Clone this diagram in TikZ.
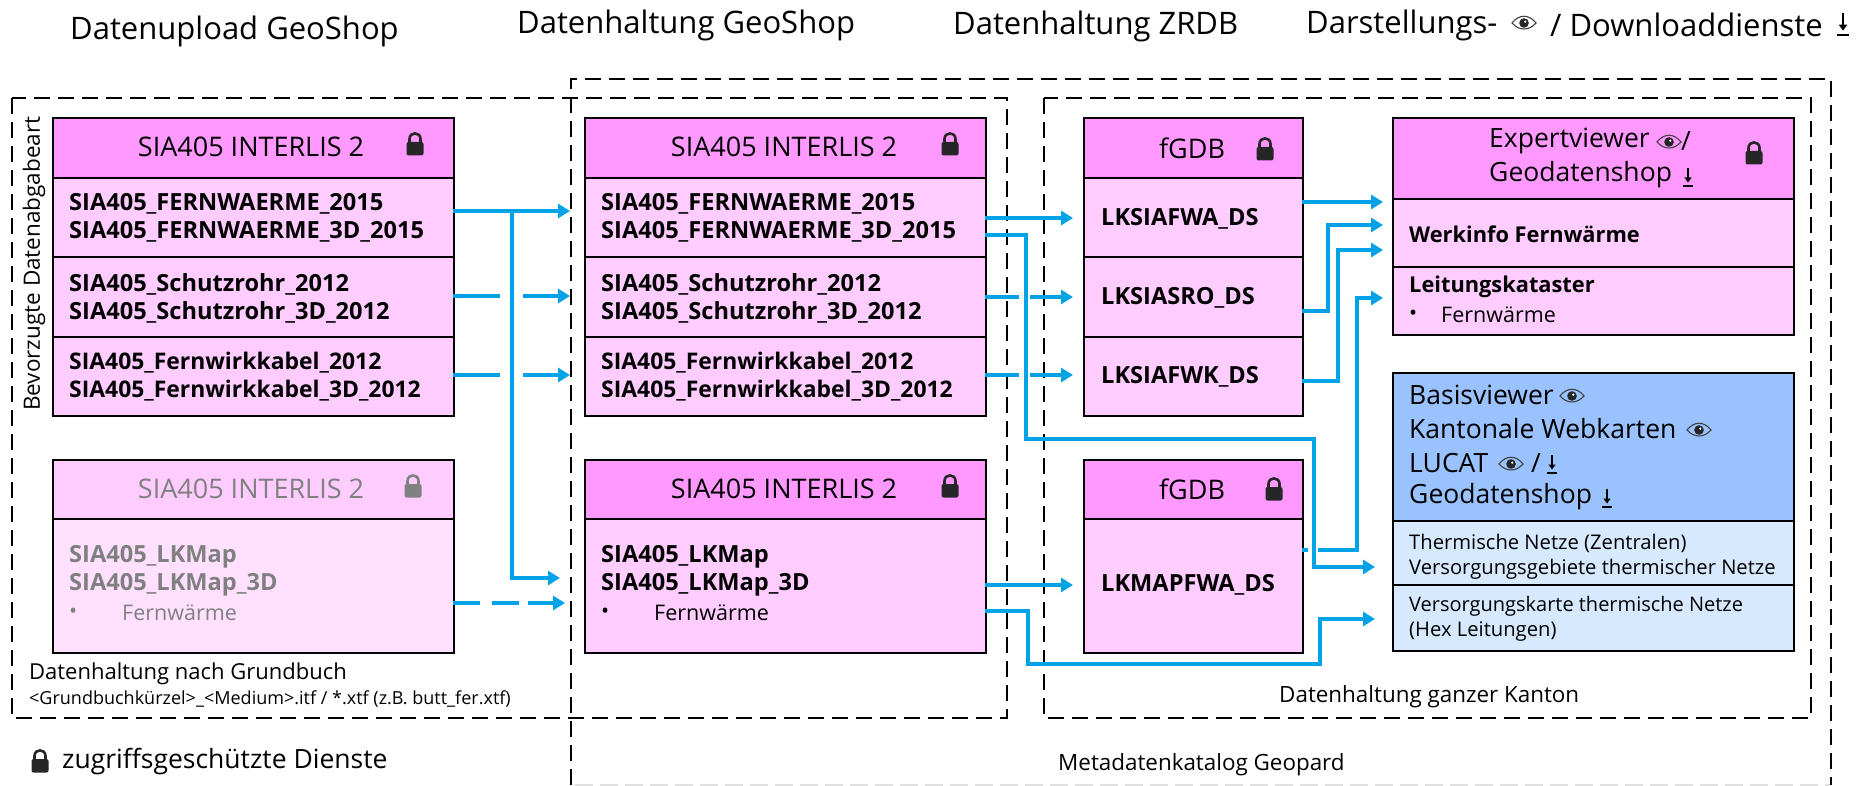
\documentclass[tikz,border=0pt]{standalone}
\usepackage{fontspec}
\setmainfont{Open Sans}
\usetikzlibrary{arrows.meta}
\definecolor{hdr}{HTML}{FF99FF}
\definecolor{rowc}{HTML}{FFCCFF}
\definecolor{rowl}{HTML}{FFE0FF}
\definecolor{blueh}{HTML}{99C2FF}
\definecolor{bluer}{HTML}{D6E9FF}
\definecolor{arr}{HTML}{00A3E8}
\definecolor{grayt}{HTML}{808080}
\definecolor{lockc}{HTML}{262626}
\newcommand{\fs}[1]{\fontsize{#1}{#1}\selectfont}
\tikzset{
  x=1pt,y=-1pt,
  cell/.style={draw=black,line width=2.2pt,inner sep=0pt,anchor=north west},
  frame/.style={draw=black,line width=2pt,dash pattern=on 16pt off 8pt},
  faint/.style={draw=black!12,line width=1.6pt,dash pattern=on 18pt off 7pt},
  link/.style={draw=arr,line width=3.2pt,line join=miter,-{Triangle[length=12pt,width=14pt]}},
  plain/.style={draw=arr,line width=3.2pt},
  txt/.style={anchor=west,inner sep=0pt,text=black},
  title/.style={txt,font=\fs{31}},
  head/.style={inner sep=0pt,font=\fs{27}},
  bold/.style={txt,font=\fs{23.6}\bfseries},
  boldl/.style={txt,font=\fs{22.9}\bfseries},
  boldw/.style={txt,font=\fs{21.8}\bfseries},
  bodyt/.style={txt,font=\fs{26.5}},
  plainr/.style={txt,font=\fs{21.5}},
  lock/.pic={
    \fill[pic actions,rounded corners=2pt] (-8.5,-2) rectangle (8.5,11.5);
    \draw[pic actions,fill=none,line width=2.6pt] (-5.5,-1) -- (-5.5,-5) .. controls (-5.5,-12.5) and (5.5,-12.5) .. (5.5,-5) -- (5.5,-1);
  },
  eye/.pic={
    \draw[black!75,line width=1.1pt] (-12,0) .. controls (-5,-9) and (5,-9) .. (12,0) .. controls (5,8) and (-5,8) .. (-12,0) -- cycle;
    \fill[black!85] (0,0) circle (4.8);
    \fill[white] (1.2,-1.4) circle (1.2);
  },
  dl/.pic={
    \draw[black,line width=1.5pt] (0,-9) -- (0,4);
    \fill[black] (-3.6,0.5) -- (3.6,0.5) -- (0,5.5) -- cycle;
    \draw[black,line width=1.7pt] (-5,9) -- (5,9);
  },
}
\begin{document}
\begin{tikzpicture}
\useasboundingbox (0,0) rectangle (1863,786);
\fill[white] (0,0) rectangle (1863,786);

% frames
\draw[faint] (575,785) -- (1830,785);
\draw[frame] (570.5,785) -- (570.5,79) -- (1830.5,79) -- (1830.5,785);
\draw[frame] (12,98) rectangle (1007,718);
\draw[frame] (1044,98) rectangle (1811,718);

% titles
\node[title] (t1) at (70,31) {Datenupload GeoShop};
\node[title] (t2) at (517,25) {Datenhaltung GeoShop};
\node[title] (t3) at (953,26) {Datenhaltung ZRDB};
\node[title] (t4a) at (1306,25) {Darstellungs-};
\node[title] (t4b) at (1550,25) {/ Downloaddienste};
\pic at (1524,23) {eye};
\pic[scale=1.2] at (1843,24) {dl};

% box 1
\node[cell,fill=hdr,minimum width=401pt,minimum height=60pt] (a0) at (52,117) {};
\node[cell,fill=rowc,minimum width=401pt,minimum height=79pt] (a1) at (52,177) {};
\node[cell,fill=rowc,minimum width=401pt,minimum height=80pt] (a2) at (52,256) {};
\node[cell,fill=rowc,minimum width=401pt,minimum height=79pt] (a3) at (52,336) {};
\node[head] (a0t) at (251,147) {SIA405 INTERLIS 2};
\pic[lockc] at (415,144) {lock};
\node[bold] (a1a) at (69,204) {SIA405\_FERNWAERME\_2015};
\node[bold] (a1b) at (69,232) {SIA405\_FERNWAERME\_3D\_2015};
\node[bold] (a2a) at (69,284) {SIA405\_Schutzrohr\_2012};
\node[bold] (a2b) at (69,312) {SIA405\_Schutzrohr\_3D\_2012};
\node[boldl] (a3a) at (69,363) {SIA405\_Fernwirkkabel\_2012};
\node[boldl] (a3b) at (69,391) {SIA405\_Fernwirkkabel\_3D\_2012};

% box 1b
\node[cell,fill=rowc,minimum width=401pt,minimum height=59pt] (b0) at (52,459) {};
\node[cell,fill=rowl,minimum width=401pt,minimum height=134pt] (b1) at (52,518) {};
\node[head,text=grayt] (b0t) at (251,489) {SIA405 INTERLIS 2};
\pic[grayt] at (413,486) {lock};
\node[bold,text=grayt] (b1a) at (69,557) {SIA405\_LKMap};
\node[bold,text=grayt] (b1b) at (69,585) {SIA405\_LKMap\_3D};
\node[plainr,text=grayt] (b1c) at (69,613) {•};
\node[plainr,text=grayt] (b1d) at (122,613) {Fernwärme};

% box 2
\node[cell,fill=hdr,minimum width=401pt,minimum height=60pt] (c0) at (584,117) {};
\node[cell,fill=rowc,minimum width=401pt,minimum height=79pt] (c1) at (584,177) {};
\node[cell,fill=rowc,minimum width=401pt,minimum height=80pt] (c2) at (584,256) {};
\node[cell,fill=rowc,minimum width=401pt,minimum height=79pt] (c3) at (584,336) {};
\node[head] (c0t) at (784,147) {SIA405 INTERLIS 2};
\pic[lockc] at (950,144) {lock};
\node[bold] (c1a) at (601,204) {SIA405\_FERNWAERME\_2015};
\node[bold] (c1b) at (601,232) {SIA405\_FERNWAERME\_3D\_2015};
\node[bold] (c2a) at (601,284) {SIA405\_Schutzrohr\_2012};
\node[bold] (c2b) at (601,312) {SIA405\_Schutzrohr\_3D\_2012};
\node[boldl] (c3a) at (601,363) {SIA405\_Fernwirkkabel\_2012};
\node[boldl] (c3b) at (601,391) {SIA405\_Fernwirkkabel\_3D\_2012};

% box 2b
\node[cell,fill=hdr,minimum width=401pt,minimum height=59pt] (d0) at (584,459) {};
\node[cell,fill=rowc,minimum width=401pt,minimum height=134pt] (d1) at (584,518) {};
\node[head] (d0t) at (784,489) {SIA405 INTERLIS 2};
\pic[lockc] at (950,486) {lock};
\node[bold] (d1a) at (601,557) {SIA405\_LKMap};
\node[bold] (d1b) at (601,585) {SIA405\_LKMap\_3D};
\node[plainr] (d1c) at (601,613) {•};
\node[plainr] (d1d) at (654,613) {Fernwärme};

% fGDB
\node[cell,fill=hdr,minimum width=219pt,minimum height=60pt] (e0) at (1083,117) {};
\node[cell,fill=rowc,minimum width=219pt,minimum height=79pt] (e1) at (1083,177) {};
\node[cell,fill=rowc,minimum width=219pt,minimum height=80pt] (e2) at (1083,256) {};
\node[cell,fill=rowc,minimum width=219pt,minimum height=79pt] (e3) at (1083,336) {};
\node[head] (e0t) at (1192,148) {fGDB};
\pic[lockc] at (1265,149) {lock};
\node[bold] (e1a) at (1101,219) {LKSIAFWA\_DS};
\node[bold] (e2a) at (1101,298) {LKSIASRO\_DS};
\node[bold] (e3a) at (1101,377) {LKSIAFWK\_DS};

% fGDB 2
\node[cell,fill=hdr,minimum width=219pt,minimum height=59pt] (f0) at (1083,459) {};
\node[cell,fill=rowc,minimum width=219pt,minimum height=134pt] (f1) at (1083,518) {};
\node[head] (f0t) at (1192,489) {fGDB};
\pic[lockc] at (1274,489) {lock};
\node[bold] (f1a) at (1101,585) {LKMAPFWA\_DS};

% Expert
\node[cell,fill=hdr,minimum width=401pt,minimum height=81pt] (g0) at (1392,117) {};
\node[cell,fill=rowc,minimum width=401pt,minimum height=68pt] (g1) at (1392,198) {};
\node[cell,fill=rowc,minimum width=401pt,minimum height=68pt] (g2) at (1392,266) {};
\node[bodyt] (g0a) at (1489,141) {Expertviewer};
\node[bodyt] (g0s) at (1681,141) {/};
\pic at (1669,142) {eye};
\node[bodyt] (g0b) at (1489,175) {Geodatenshop};
\pic at (1688,177) {dl};
\pic[lockc] at (1754,153) {lock};
\node[boldw] (g1a) at (1409,234) {Werkinfo Fernwärme};
\node[boldw] (g2a) at (1409,287) {Leitungskataster};
\node[plainr] (g2b) at (1409,315) {•};
\node[plainr] (g2c) at (1441,315) {Fernwärme};

% Blue
\node[cell,fill=blueh,minimum width=401pt,minimum height=148pt] (h0) at (1392,372) {};
\node[cell,fill=bluer,minimum width=401pt,minimum height=64pt] (h1) at (1392,520) {};
\node[cell,fill=bluer,minimum width=401pt,minimum height=66pt] (h2) at (1392,584) {};
\node[bodyt] (h0a) at (1409,395) {Basisviewer};
\pic at (1572,396) {eye};
\node[bodyt] (h0b) at (1409,429) {Kantonale Webkarten};
\pic at (1699,430) {eye};
\node[bodyt] (h0c) at (1409,463) {LUCAT};
\pic at (1511,464) {eye};
\node[bodyt] (h0d) at (1531,463) {/};
\pic at (1552,464) {dl};
\node[bodyt] (h0e) at (1409,497) {Geodatenshop};
\pic at (1607,498) {dl};
\node[txt,font=\fs{20.2}] (h1a) at (1409,543) {Thermische Netze (Zentralen)};
\node[txt,font=\fs{20.2}] (h1b) at (1409,569) {Versorgungsgebiete thermischer Netze};
\node[txt,font=\fs{20}] (h2a) at (1409,606) {Versorgungskarte thermische Netze};
\node[txt,font=\fs{20.2}] (h2b) at (1409,632) {(Hex Leitungen)};

% other labels
\node[txt,font=\fs{22.5},rotate=90] (r1) at (34,411) {Bevorzugte Datenabgabeart};
\node[txt,font=\fs{22}] (n1) at (29,674) {Datenhaltung nach Grundbuch};
\node[txt,font=\fs{18}] (n2) at (29,699) {<Grundbuchkürzel>\_<Medium>.itf / *.xtf (z.B. butt\_fer.xtf)};
\node[txt,font=\fs{26.5}] (n3) at (62,762) {zugriffsgeschützte Dienste};
\pic[lockc] at (40,761) {lock};
\node[txt,font=\fs{22.4}] (n4) at (1279,697) {Datenhaltung ganzer Kanton};
\node[txt,font=\fs{22.4}] (n5) at (1058,765) {Metadatenkatalog Geopard};

% connectors
\coordinate (s1) at (453,211); \coordinate (tip1) at (570,211);
\draw[link] (s1) -- (tip1);
\coordinate (br) at (512,211); \coordinate (br2) at (512,578); \coordinate (tip1b) at (560,578);
\draw[link] (br) -- (br2) -- (tip1b);
\coordinate (s2) at (453,296); \coordinate (m2) at (500,296); \coordinate (n2a) at (523,296); \coordinate (tip2) at (570,296);
\draw[plain] (s2) -- (m2); \draw[link] (n2a) -- (tip2);
\coordinate (s3) at (453,375); \coordinate (m3) at (500,375); \coordinate (n3a) at (523,375); \coordinate (tip3) at (570,375);
\draw[plain] (s3) -- (m3); \draw[link] (n3a) -- (tip3);
\coordinate (s4) at (453,603); \coordinate (tip4) at (565,603);
\draw[plain] (s4) -- (480,603); \draw[plain] (492,603) -- (519,603); \draw[link] (528,603) -- (tip4);

\coordinate (u1) at (985,218); \coordinate (v1) at (1073,218);
\draw[link] (u1) -- (v1);
\draw[plain] (985,297) -- (1019,297); \draw[link] (1030,297) -- (1073,297);
\draw[plain] (985,375) -- (1019,375); \draw[link] (1030,375) -- (1073,375);
\coordinate (u4) at (985,585); \coordinate (v4) at (1073,585);
\draw[link] (u4) -- (v4);

\draw[link] (985,235) -- (1026,235) -- (1026,439) -- (1314,439) -- (1314,567) -- (1375,567);
\draw[link] (985,611) -- (1028,611) -- (1028,664) -- (1320,664) -- (1320,619) -- (1375,619);

\draw[link] (1302,202) -- (1383,202);
\draw[link] (1302,311) -- (1328,311) -- (1328,225) -- (1383,225);
\draw[link] (1302,381) -- (1338,381) -- (1338,250) -- (1383,250);
\draw[plain] (1302,550) -- (1308,550);
\draw[link] (1318,550) -- (1357,550) -- (1357,298) -- (1383,298);
\end{tikzpicture}
\end{document}
